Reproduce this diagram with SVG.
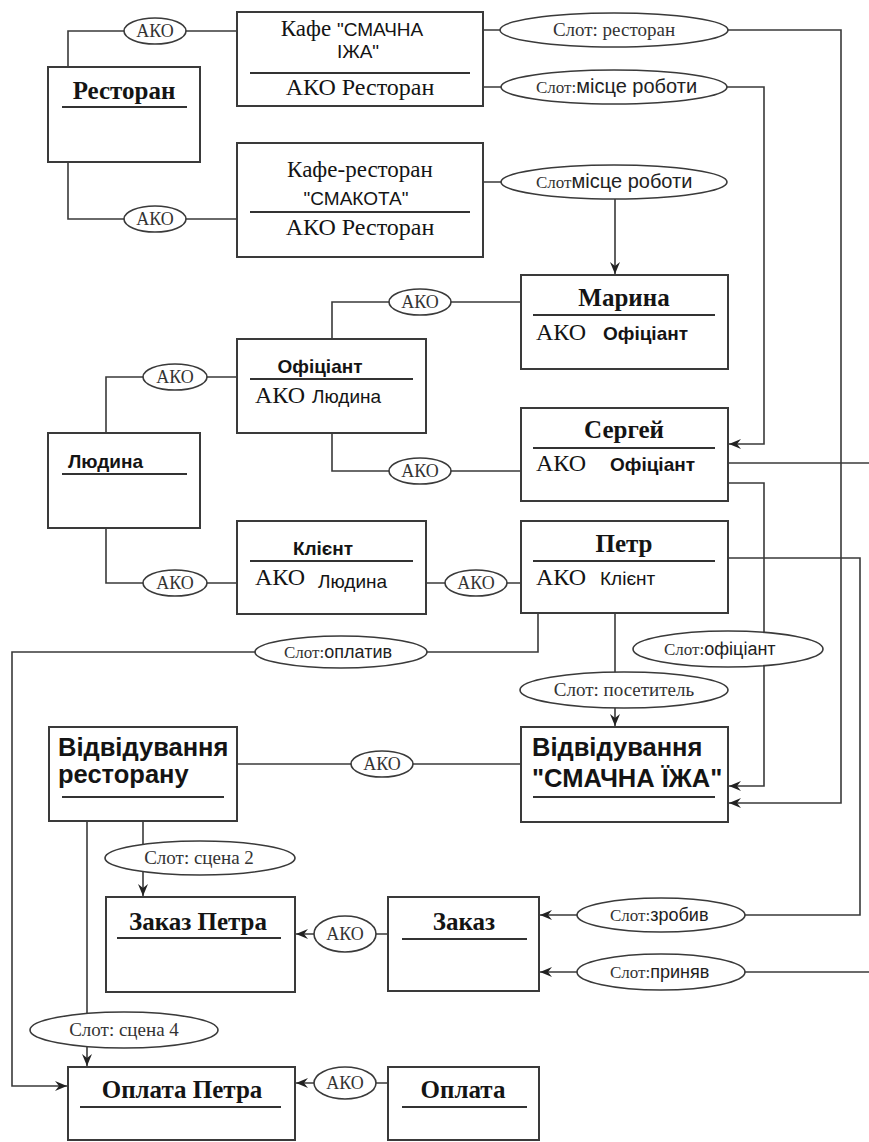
<svg xmlns="http://www.w3.org/2000/svg" width="869" height="1142" viewBox="0 0 869 1142">
<style>
.box{fill:#fff;stroke:#3a3a3a;stroke-width:2}
.ul{stroke:#333;stroke-width:2}
.cn{fill:none;stroke:#3a3a3a;stroke-width:1.6}
.lab{fill:#fff;stroke:#3a3a3a;stroke-width:1.6}
text{fill:#141414}
.tb{font-family:'Liberation Serif',serif;font-weight:bold;font-size:25px}
.tr{font-family:'Liberation Serif',serif;font-size:24px}
.sb{font-family:'Liberation Sans',sans-serif;font-weight:bold;font-size:19px}
.sr{font-family:'Liberation Sans',sans-serif;font-size:19px}
.big{font-family:'Liberation Sans',sans-serif;font-weight:bold;font-size:25.5px}
.ako{font-family:'Liberation Serif',serif;font-size:18px;fill:#333}
.sl{font-family:'Liberation Serif',serif;font-size:17px;fill:#333}
.slf{font-family:'Liberation Serif',serif;font-size:19px;fill:#333}
.sls{font-family:'Liberation Sans',sans-serif;font-size:18px;fill:#222}
.m{text-anchor:middle}
</style>
<defs>
<marker id="ar" markerUnits="userSpaceOnUse" markerWidth="12" markerHeight="10" refX="12" refY="5" orient="auto">
<path d="M0,0 L12,5 L0,10 L4,5 z" fill="#222"/>
</marker>
</defs>

<g id="connectors">
<path class="cn" d="M68,67 V31 H237"/>
<path class="cn" d="M68,162 V219 H237"/>
<path class="cn" d="M483,30 H841 V803 H729" marker-end="url(#ar)"/>
<path class="cn" d="M483,87 H764 V444 H729" marker-end="url(#ar)"/>
<path class="cn" d="M483,182 H615 V274" marker-end="url(#ar)"/>
<path class="cn" d="M521,302 H332 V339"/>
<path class="cn" d="M332,433 V471 H521"/>
<path class="cn" d="M237,377 H106 V433"/>
<path class="cn" d="M106,528 V583 H237"/>
<path class="cn" d="M426,583 H521"/>
<path class="cn" d="M728,463 H869"/>
<path class="cn" d="M728,483 H764 V786 H729" marker-end="url(#ar)"/>
<path class="cn" d="M728,558 H860 V915 H540" marker-end="url(#ar)"/>
<path class="cn" d="M869,972 H540" marker-end="url(#ar)"/>
<path class="cn" d="M615,613 V726" marker-end="url(#ar)"/>
<path class="cn" d="M538,613 V652 H12 V1086 H67" marker-end="url(#ar)"/>
<path class="cn" d="M237,764 H521"/>
<path class="cn" d="M143,821 V896" marker-end="url(#ar)"/>
<path class="cn" d="M87,821 V1066" marker-end="url(#ar)"/>
<path class="cn" d="M388,934 H296" marker-end="url(#ar)"/>
<path class="cn" d="M388,1083 H296" marker-end="url(#ar)"/>

<g id="labels">
<ellipse class="lab" cx="155" cy="31" rx="31" ry="13"/><text class="ako m" x="155" y="37">АКО</text>
<ellipse class="lab" cx="155" cy="219" rx="31" ry="13"/><text class="ako m" x="155" y="225">АКО</text>
<ellipse class="lab" cx="420" cy="302" rx="31" ry="13"/><text class="ako m" x="420" y="308">АКО</text>
<ellipse class="lab" cx="175" cy="377" rx="32" ry="13"/><text class="ako m" x="175" y="383">АКО</text>
<ellipse class="lab" cx="420" cy="471" rx="31" ry="13"/><text class="ako m" x="420" y="477">АКО</text>
<ellipse class="lab" cx="175" cy="583" rx="32" ry="13"/><text class="ako m" x="175" y="589">АКО</text>
<ellipse class="lab" cx="476" cy="583" rx="31" ry="13"/><text class="ako m" x="476" y="589">АКО</text>
<ellipse class="lab" cx="382" cy="764" rx="31" ry="13"/><text class="ako m" x="382" y="770">АКО</text>
<ellipse class="lab" cx="345" cy="934" rx="31" ry="18"/><text class="ako m" x="345" y="940">АКО</text>
<ellipse class="lab" cx="345" cy="1083" rx="31" ry="16"/><text class="ako m" x="345" y="1089">АКО</text>

<ellipse class="lab" cx="614" cy="30" rx="114" ry="17"/><text class="slf m" x="614" y="36">Слот: ресторан</text>
<ellipse class="lab" cx="614" cy="87" rx="113" ry="17"/><text x="536" y="93"><tspan class="sl">Слот:</tspan><tspan class="sls" style="font-size:20px">місце роботи</tspan></text>
<ellipse class="lab" cx="614" cy="182" rx="113" ry="17"/><text x="536" y="188"><tspan class="sl">Слот</tspan><tspan class="sls" style="font-size:20px">місце роботи</tspan></text>
<ellipse class="lab" cx="341" cy="652" rx="86" ry="16"/><text x="284" y="658"><tspan class="sl">Слот:</tspan><tspan class="sls">оплатив</tspan></text>
<ellipse class="lab" cx="728" cy="649" rx="95" ry="18"/><text x="664" y="655"><tspan class="sl">Слот:</tspan><tspan class="sls">офіціант</tspan></text>
<ellipse class="lab" cx="624" cy="690" rx="104" ry="18"/><text class="slf m" x="624" y="696">Слот: посетитель</text>
<ellipse class="lab" cx="200" cy="858" rx="95" ry="17"/><text class="slf m" x="199" y="864">Слот: сцена 2</text>
<ellipse class="lab" cx="124" cy="1030" rx="94" ry="18"/><text class="slf m" x="124" y="1036">Слот: сцена 4</text>
<ellipse class="lab" cx="661" cy="915" rx="84" ry="17"/><text x="610" y="921"><tspan class="sl">Слот:</tspan><tspan class="sls">зробив</tspan></text>
<ellipse class="lab" cx="661" cy="972" rx="84" ry="18"/><text x="610" y="978"><tspan class="sl">Слот:</tspan><tspan class="sls">приняв</tspan></text>
</g>
</g>

<g id="restoran">
<rect class="box" x="48" y="67" width="152" height="95"/>
<text class="tb m" x="124" y="99">Ресторан</text>
<line class="ul" x1="62" y1="107" x2="187" y2="107"/>
</g>

<g id="kafe-smachna">
<rect class="box" x="237" y="12" width="246" height="94"/>
<text class="m" x="352" y="36"><tspan class="tr" style="font-size:23px">Кафе </tspan><tspan class="sr">"СМАЧНА</tspan></text>
<text class="sr m" x="358" y="58">ІЖА"</text>
<line class="ul" x1="250" y1="73" x2="470" y2="73"/>
<text class="tr m" x="360" y="95">АКО Ресторан</text>
</g>

<g id="kafe-smakota">
<rect class="box" x="237" y="143" width="246" height="114"/>
<text class="tr m" x="360" y="177" style="font-size:23px">Кафе-ресторан</text>
<text class="sr m" x="356" y="205">"СМАКОТА"</text>
<line class="ul" x1="250" y1="212" x2="470" y2="212"/>
<text class="tr m" x="360" y="235">АКО Ресторан</text>
</g>

<g id="maryna">
<rect class="box" x="521" y="275" width="207" height="94"/>
<text class="tb m" x="624" y="306">Марина</text>
<line class="ul" x1="533" y1="315" x2="715" y2="315"/>
<text class="tr" x="536" y="340">АКО</text>
<text class="sb" x="603" y="340">Офіціант</text>
</g>

<g id="sergei">
<rect class="box" x="521" y="408" width="207" height="93"/>
<text class="tb m" x="624" y="438">Сергей</text>
<line class="ul" x1="533" y1="448" x2="715" y2="448"/>
<text class="tr" x="536" y="471">АКО</text>
<text class="sb" x="610" y="471">Офіціант</text>
</g>

<g id="petr">
<rect class="box" x="521" y="521" width="207" height="92"/>
<text class="tb m" x="624" y="552">Петр</text>
<line class="ul" x1="533" y1="561" x2="715" y2="561"/>
<text class="tr" x="536" y="585">АКО</text>
<text class="sr" x="600" y="585">Клієнт</text>
</g>

<g id="ofitsiant">
<rect class="box" x="237" y="339" width="189" height="94"/>
<text class="sb m" x="320" y="373">Офіціант</text>
<line class="ul" x1="250" y1="379" x2="413" y2="379"/>
<text class="tr" x="255" y="403">АКО</text>
<text class="sr" x="312" y="403">Людина</text>
</g>

<g id="liudyna">
<rect class="box" x="48" y="433" width="152" height="95"/>
<text class="sb" x="68" y="468">Людина</text>
<line class="ul" x1="62" y1="474" x2="187" y2="474"/>
</g>

<g id="klient">
<rect class="box" x="237" y="521" width="189" height="93"/>
<text class="sb m" x="323" y="555">Клієнт</text>
<line class="ul" x1="250" y1="561" x2="413" y2="561"/>
<text class="tr" x="255" y="585">АКО</text>
<text class="sr" x="318" y="588">Людина</text>
</g>

<g id="vidviduvannia-restoranu">
<rect class="box" x="49" y="727" width="188" height="94"/>
<text class="big" x="58" y="756">Відвідування</text>
<text class="big" x="58" y="783">ресторану</text>
<line class="ul" x1="62" y1="797" x2="224" y2="797"/>
</g>

<g id="vidviduvannia-smachna">
<rect class="box" x="521" y="727" width="207" height="95"/>
<text class="big" x="532" y="756">Відвідування</text>
<text class="big" x="532" y="787">"СМАЧНА ЇЖА"</text>
<line class="ul" x1="533" y1="797" x2="715" y2="797"/>
</g>

<g id="zakaz-petra">
<rect class="box" x="106" y="897" width="189" height="95"/>
<text class="tb m" x="198" y="930">Заказ Петра</text>
<line class="ul" x1="117" y1="938" x2="281" y2="938"/>
</g>

<g id="zakaz">
<rect class="box" x="388" y="897" width="151" height="94"/>
<text class="tb m" x="464" y="930">Заказ</text>
<line class="ul" x1="402" y1="939" x2="527" y2="939"/>
</g>

<g id="oplata-petra">
<rect class="box" x="68" y="1067" width="227" height="73"/>
<text class="tb m" x="182" y="1098">Оплата Петра</text>
<line class="ul" x1="80" y1="1107" x2="281" y2="1107"/>
</g>

<g id="oplata">
<rect class="box" x="388" y="1067" width="151" height="73"/>
<text class="tb m" x="463" y="1098">Оплата</text>
<line class="ul" x1="402" y1="1107" x2="527" y2="1107"/>
</g>
</svg>
